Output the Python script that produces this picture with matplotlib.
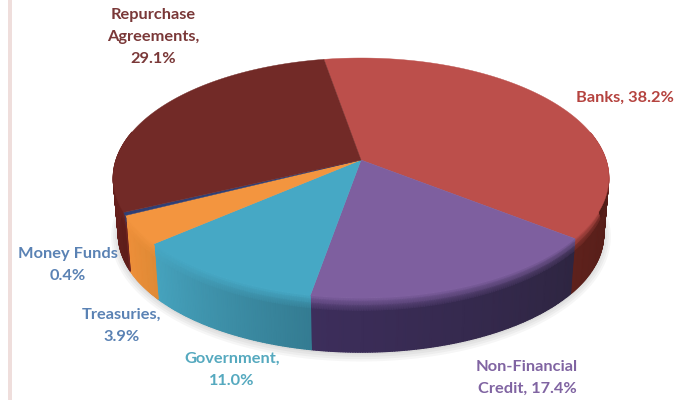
import numpy as np
import matplotlib
matplotlib.use('Agg')
import matplotlib.pyplot as plt

# shares of the pie, clockwise from the top
categories = ['Banks', 'Non-Financial Credit', 'Government', 'Treasuries', 'Money Funds', 'Repurchase Agreements']
shares = [38.2, 17.4, 11.0, 3.9, 0.4, 29.1]
label_texts = ['Banks, 38.2%', 'Non-Financial\nCredit, 17.4%', 'Government,\n11.0%',
               'Treasuries,\n3.9%', 'Money Funds\n0.4%', 'Repurchase\nAgreements,\n29.1%']

top_colors = ['#BC4F4B', '#7E5F9F', '#46A8C5', '#F3953F', '#2F3F75', '#722A27']
side_left = ['#5E211C', '#3D2E5C', '#46A3BE', '#EE8F3A', '#6E2320', '#6E2320']
side_right = ['#4E1B16', '#2E2541', '#347C92', '#E08A35', '#6E2320', '#5E1D1A']
label_colors = ['#B5433F', '#8064A2', '#55A9BF', '#5A82B4', '#5A82B4', '#7A3838']
label_pos = [(625, 98), (527, 378), (232, 370), (122, 326), (68, 265), (153, 37)]

start_angle = 100.0
tilt = 0.15


def rim(theta, cx, cy, a, b):
    # circle seen in perspective, far side is squeezed
    d = 1 + tilt * np.sin(theta)
    return cx + a * np.cos(theta) / d, cy - b * np.sin(theta) / d


def rgb(c):
    return np.array(matplotlib.colors.to_rgb(c))


TOP = (361, 160, 245, 117.3)
BASE = (361, 217, 240, 115)

fig = plt.figure(figsize=(6.88, 4.0), dpi=100)
ax = fig.add_axes([0, 0, 1, 1])
ax.set_xlim(0, 688)
ax.set_ylim(400, 0)
ax.axis('off')

# pink stripe on the left of the slide
ax.axvspan(8, 11.5, color='#EFDEDC', lw=0)

# soft shadow under the pie
t = np.radians(np.linspace(0, 360, 361))
for grow in [7, 5, 3, 1]:
    sx, sy = rim(t, BASE[0], BASE[1] + 1, BASE[2] + grow, BASE[3] + grow)
    ax.fill(sx, sy, color='#000000', alpha=0.035, lw=0)

edges = start_angle - np.cumsum([0] + shares) * 3.6
u = np.array([0, 0.06, 0.14, 0.25, 1.0])

# side wall, only the part that faces the viewer
for i in range(len(shares)):
    a0, a1 = edges[i], edges[i + 1]
    th = np.radians(np.linspace(a0, a1, max(int(a0 - a1) * 2 + 2, 4)))
    th = th[np.sin(th) < 0.25]
    if len(th) < 2:
        continue
    x1, y1 = rim(th, *TOP)
    x2, y2 = rim(th, *BASE)
    X = x1[None, :] + (x2 - x1)[None, :] * u[:, None]
    Y = y1[None, :] + (y2 - y1)[None, :] * u[:, None]
    f = np.linspace(0, 1, len(th))[:, None]
    wall = rgb(side_right[i]) + (rgb(side_left[i]) - rgb(side_right[i])) * f
    blend = np.clip(u / 0.25, 0, 1)[:, None, None]
    C = rgb(top_colors[i]) * (1 - blend) + wall[None, :, :] * blend
    ax.pcolormesh(X, Y, C, shading='gouraud')

# top surface
for i in range(len(shares)):
    th = np.radians(np.linspace(edges[i], edges[i + 1], 120))
    x, y = rim(th, *TOP)
    ax.fill(np.r_[TOP[0], x], np.r_[TOP[1], y], color=top_colors[i], lw=0.3, ec=top_colors[i])

for txt, pos, col in zip(label_texts, label_pos, label_colors):
    ax.text(pos[0], pos[1], txt, color=col, fontsize=11.8, fontweight='bold', family='Lato',
            ha='center', va='center', linespacing=1.75)

ax.set_xlim(0, 688)
ax.set_ylim(400, 0)
fig.savefig('out.png', dpi=100)
